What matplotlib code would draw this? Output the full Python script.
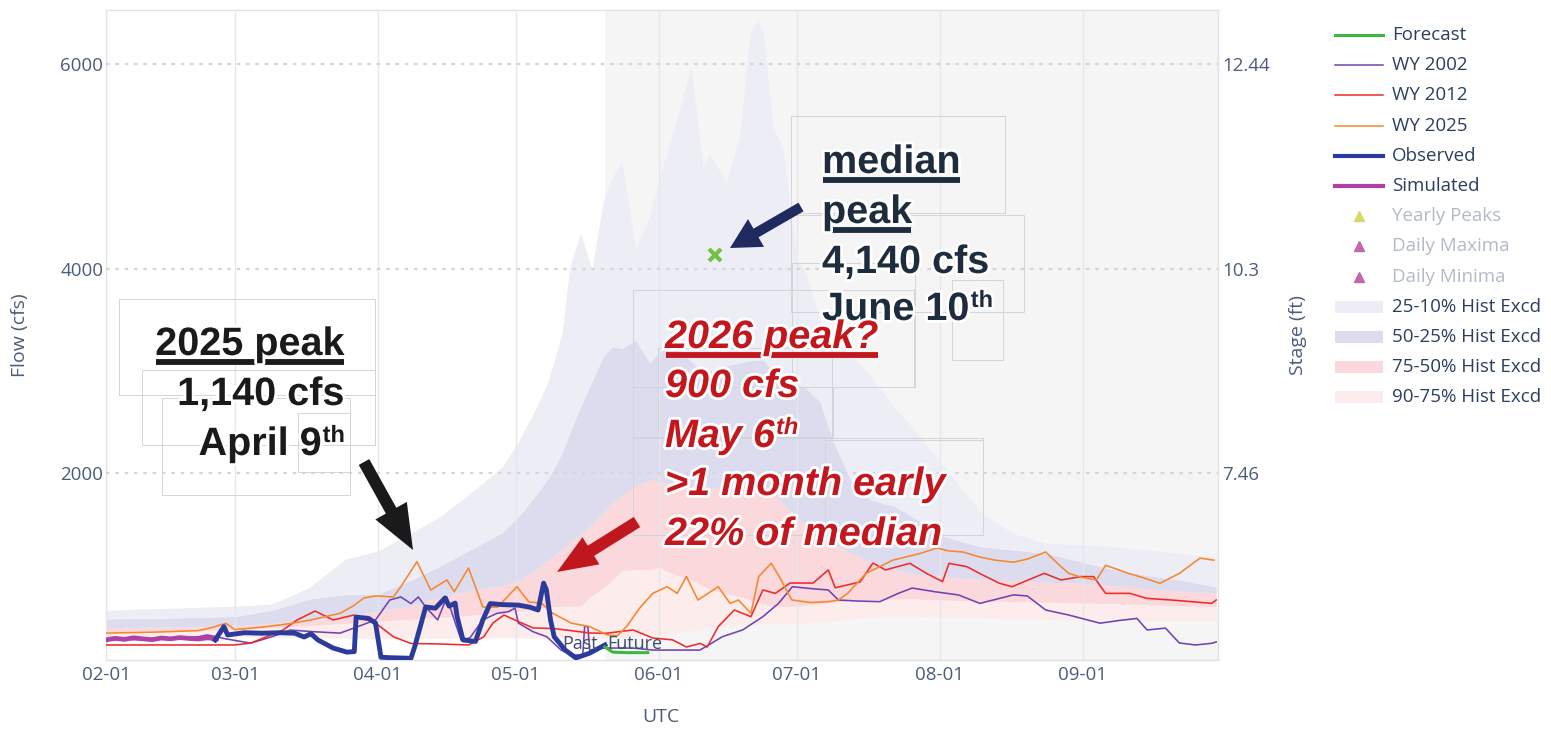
import numpy as np
import pandas as pd
import matplotlib
matplotlib.use("Agg")
import matplotlib.pyplot as plt
import matplotlib.dates as mdates
import matplotlib.patheffects as pe
from matplotlib.lines import Line2D
from matplotlib.patches import Polygon, Rectangle
from matplotlib.transforms import IdentityTransform

# ---------------------------------------------------------------- data
START = pd.Timestamp("2026-02-01")          # day 0 of every series below
now_day = 108.3                             # Past | Future boundary
end_day = 241.4

# historical exceedance bands (cfs), common day grid
band_day = [0, 14, 28, 36, 44, 52, 59, 66, 72, 79, 86, 90, 93.5, 96, 99, 100.7, 103,
            105.5, 108, 110, 112, 115, 118, 120, 123, 127, 129.6, 131, 134.7, 137.6,
            139.8, 141.3, 142.7, 144.8, 147, 150, 152, 155, 158, 162, 166, 171, 176,
            182, 190, 197, 204, 212, 219, 226, 233, 241]
p10 = [660, 680, 700, 720, 880, 1160, 1240, 1410, 1560, 1800, 2060, 2350, 2650, 2900,
       3370, 4020, 4350, 4000, 4670, 4900, 5060, 4180, 4510, 4870, 5320, 5976, 5000,
       5130, 4840, 5320, 6300, 6435, 6300, 5390, 5160, 4090, 3960, 3500, 3300, 3150,
       2950, 2650, 2400, 2060, 1610, 1410, 1315, 1300, 1280, 1250, 1215, 1180]
p25 = [575, 585, 600, 660, 770, 815, 820, 950, 1080, 1250, 1420, 1600, 1800, 1950,
       2200, 2400, 2650, 2900, 3150, 3240, 3220, 3300, 3080, 3180, 3270, 3100, 2980,
       3000, 3050, 3080, 3100, 3110, 3110, 3000, 2915, 2870, 2830, 2700, 2300, 1900,
       1740, 1680, 1550, 1380, 1280, 1250, 1215, 1130, 1054, 1000, 956, 890]
p50 = [490, 495, 505, 530, 560, 600, 650, 700, 780, 850, 900, 960, 1060, 1150, 1250,
       1320, 1400, 1500, 1620, 1720, 1780, 1880, 1933, 1920, 1900, 1870, 1835, 1850,
       1880, 1900, 1880, 1850, 1820, 1800, 1700, 1560, 1500, 1420, 1300, 1215, 1130,
       1060, 1010, 990, 956, 950, 935, 923, 900, 870, 850, 825]
p75 = [450, 455, 470, 490, 510, 530, 550, 570, 590, 610, 630, 650, 670, 690, 700, 700,
       700, 800, 880, 960, 1050, 1060, 1054, 1080, 1020, 960, 900, 870, 825, 790, 760,
       740, 720, 700, 695, 700, 710, 720, 740, 760, 760, 770, 770, 760, 750, 745, 740,
       730, 725, 715, 705, 695]
p90 = [400, 400, 400, 395, 390, 385, 385, 385, 385, 390, 390, 390, 385, 385, 380, 380,
       380, 380, 385, 390, 395, 400, 410, 420, 440, 460, 480, 490, 500, 510, 515, 520,
       525, 530, 530, 535, 540, 550, 560, 575, 590, 600, 600, 595, 585, 575, 570, 565,
       565, 560, 560, 560]

wy2025_day = [0, 10, 20, 23, 26, 28, 35, 40, 44.5, 50.8, 53.6, 56, 58.5, 62.4, 64, 67.5,
              70.5, 74, 75.6, 78.7, 81.8, 85, 89.2, 91.8, 94.5, 97, 101, 105, 108.7, 111,
              113, 116, 118.7, 121.8, 124, 126, 128.5, 132.9, 135.5, 137.3, 140, 141.7,
              144.4, 146.2, 148.9, 153, 157, 159, 161, 165, 170.8, 176.7, 180.4, 183,
              186, 189.7, 193, 197, 200, 204, 207, 209, 212, 215, 217, 222, 225, 228.8,
              233, 237.5, 240.5]
wy2025_cfs = [436, 445, 460, 490, 532, 470, 500, 530, 565, 630, 700, 780, 800, 790, 890,
              1135, 858, 956, 842, 1073, 692, 690, 890, 741, 730, 630, 534, 500, 420, 410,
              500, 690, 825, 890, 825, 990, 760, 890, 727, 760, 630, 989, 1119, 985, 760,
              735, 745, 760, 825, 1020, 1150, 1215, 1268, 1240, 1230, 1180, 1150, 1130,
              1160, 1230, 1100, 1020, 980, 956, 1100, 1020, 980, 923, 1020, 1170, 1150]

wy2012_day = [0, 10, 20, 27.8, 31.4, 38.4, 41.5, 45.4, 49.3, 53.8, 58.5, 62.4, 66.2, 72,
              78.7, 82, 84, 86.4, 89, 92.7, 97.3, 101, 105, 108.7, 114.4, 118.7, 123,
              126, 129, 130.5, 132.9, 136.4, 140, 142.6, 145.3, 148.5, 153.5, 156.8,
              158.3, 163.7, 166.5, 169.2, 174.5, 178.1, 181.6, 183, 186.9, 189.6, 194,
              196.7, 200.2, 203.7, 207.3, 211.7, 214.4, 217, 222.3, 225.9, 231.2, 235.6,
              240, 241]
wy2012_cfs = [320, 320, 320, 320, 338, 466, 565, 652, 565, 613, 535, 400, 335, 330, 320,
              400, 535, 613, 560, 487, 480, 460, 437, 435, 467, 388, 370, 300, 335, 300,
              499, 662, 597, 858, 825, 926, 926, 1054, 880, 936, 1122, 1054, 1119, 1021,
              940, 1119, 1086, 1021, 923, 890, 956, 1021, 956, 989, 989, 825, 825, 776,
              760, 744, 727, 760]

wy2002_day = [0, 10, 20, 22, 26, 31.4, 36, 40, 45, 50.8, 54.7, 58.5, 61.6, 64, 66.2,
              67.8, 69.4, 72, 74, 75.6, 77.1, 79, 81.8, 84.9, 87.3, 88.8, 89.5, 92.7,
              95.7, 98.8, 101, 103.5, 103.9, 104.6, 105, 108, 114.4, 118.7, 123, 128.9,
              130.2, 133.8, 138.2, 142.6, 146, 149, 153.5, 156.8, 159, 163, 168, 172,
              175, 179.8, 185.1, 189.7, 194, 197, 200, 204, 209, 215.8, 220, 223.8, 226,
              230, 233, 236.5, 240, 241]
wy2002_cfs = [370, 375, 400, 418, 380, 338, 400, 466, 450, 436, 500, 565, 760, 790, 725,
              790, 692, 565, 790, 565, 369, 390, 565, 630, 645, 680, 535, 450, 400, 270,
              222, 222, 500, 500, 270, 290, 290, 270, 270, 270, 303, 401, 467, 597, 727,
              890, 870, 858, 760, 750, 744, 825, 877, 842, 809, 727, 776, 810, 800, 662,
              613, 533, 560, 580, 467, 485, 340, 320, 336, 350]

obs_day = [23.7, 25.6, 26.4, 30, 34, 38, 41, 43, 44.5, 46, 49.3, 52.3, 53.9, 54.3, 57,
           58.5, 59.7, 62, 66.2, 67, 69.4, 71.5, 73.6, 74.5, 75.8, 76.2, 77.5, 80.2, 81.8,
           83.4, 86, 89.5, 92, 93.8, 95, 95.6, 96.5, 97.3, 99.7, 102, 105, 108.3]
obs_cfs = [369, 500, 418, 440, 435, 440, 435, 398, 430, 369, 290, 250, 255, 593, 580,
           535, 200, 195, 190, 300, 692, 680, 780, 700, 730, 600, 369, 355, 565, 725, 715,
           710, 690, 662, 925, 860, 565, 400, 270, 193, 240, 320]

sim_day = [0, 2, 4, 6, 8, 10, 12, 14, 16, 18, 20, 22, 24]
sim_cfs = [370, 385, 375, 390, 380, 372, 388, 380, 392, 384, 378, 390, 380]

fcst_day = [108.3, 110, 113, 117.6]
fcst_cfs = [300, 250, 245, 245]

median_peak_day = 132.2
median_peak_cfs = 4140

flow_ticks = [2000, 4000, 6000]
stage_labels = ["7.46", "10.3", "12.44"]

legend_labels = ["Forecast", "WY 2002", "WY 2012", "WY 2025", "Observed", "Simulated",
                 "Yearly Peaks", "Daily Maxima", "Daily Minima", "25-10% Hist Excd",
                 "50-25% Hist Excd", "75-50% Hist Excd", "90-75% Hist Excd"]

# ---------------------------------------------------------------- helpers
def dates(days):
    return START + pd.to_timedelta(np.asarray(days, float), unit="D")

W, H = 1551, 729
plt.rcParams['font.family'] = ['Open Sans', 'DejaVu Sans']
TICK_C = '#4b5d7a'
TEXT_C = '#2a3f5f'

C_FCST = '#3cb83c'
C_02 = '#7044b0'
C_12 = '#f02a2a'
C_25 = '#f7872c'
C_OBS = '#2b3b9c'
C_SIM = '#b040a6'
C_B1 = '#ededf6'
C_B2 = '#dcdcee'
C_B3 = '#fad8db'
C_B4 = '#fcecec'

fig = plt.figure(figsize=(W / 100, H / 100), dpi=100)
fig.patch.set_facecolor('white')
ax = fig.add_axes([106 / W, 1 - 660 / H, (1218 - 106) / W, 650 / H])
ax.set_facecolor('white')
x0, x1 = dates([0, end_day])
ax.set_xlim(x0, x1)
ax.set_ylim(173, 6533)

ax.axvspan(dates([now_day])[0], x1, color='#f5f5f6', lw=0, zorder=0)

bd = dates(band_day)
ax.fill_between(bd, p90, p75, color=C_B4, lw=0, zorder=1)
ax.fill_between(bd, p75, p50, color=C_B3, lw=0, zorder=1)
ax.fill_between(bd, p50, p25, color=C_B2, lw=0, zorder=1)
ax.fill_between(bd, p25, p10, color=C_B1, lw=0, zorder=1)

ax.xaxis.set_major_locator(mdates.MonthLocator())
ax.xaxis.set_major_formatter(mdates.DateFormatter('%m-%d'))
ax.set_yticks(flow_ticks)
ax.grid(axis='x', color='#e6e6ec', lw=1.0, zorder=1.5)
ax.grid(axis='y', color='#d6d6da', lw=1.6, linestyle=(0, (1.6, 2.6)), zorder=1.5)
ax.set_axisbelow(False)
for s in ax.spines.values():
    s.set_color('#e2e2e6')
    s.set_linewidth(1.0)
ax.tick_params(length=0, labelsize=13.5, labelcolor=TICK_C)
ax.tick_params(axis='x', pad=4)
ax.tick_params(axis='y', pad=2)

ax.plot(dates(wy2002_day), wy2002_cfs, color=C_02, lw=1.15, zorder=3)
ax.plot(dates(wy2012_day), wy2012_cfs, color=C_12, lw=1.15, zorder=3)
ax.plot(dates(wy2025_day), wy2025_cfs, color=C_25, lw=1.15, zorder=3)
ax.plot(dates(sim_day), sim_cfs, color=C_SIM, lw=3.4, zorder=4)
ax.plot(dates(obs_day), obs_cfs, color=C_OBS, lw=3.5, zorder=5)
ax.plot(dates(fcst_day), fcst_cfs, color=C_FCST, lw=2.2, zorder=5)
ax.plot(dates([median_peak_day]), [median_peak_cfs], marker='x', ms=8, mew=3,
        color='#72c044', ls='none', zorder=6)

nd = dates([now_day])[0]
ax.text(nd - pd.Timedelta(days=1.5), 330, 'Past', ha='right', va='center',
        fontsize=13, color='#3b4d6b', zorder=6)
ax.text(nd + pd.Timedelta(days=0.6), 330, 'Future', ha='left', va='center',
        fontsize=13, color='#3b4d6b', zorder=6)

ax2 = ax.twinx()
ax2.set_ylim(ax.get_ylim())
ax2.set_yticks(flow_ticks)
ax2.set_yticklabels(stage_labels)
ax2.tick_params(length=0, labelsize=13.5, labelcolor=TICK_C, pad=3)
for s in ax2.spines.values():
    s.set_visible(False)

ID = IdentityTransform()


def ptext(x, y, s, **kw):
    return fig.text(x, H - y, s, transform=ID, **kw)


ptext(20, 335, 'Flow (cfs)', rotation=90, ha='center', va='center', fontsize=14,
      color=TICK_C)
ptext(661, 717, 'UTC', ha='center', va='center', fontsize=14, color=TICK_C)
ptext(1298, 335, 'Stage (ft)', rotation=90, ha='center', va='center', fontsize=14,
      color=TICK_C)

# ---------------------------------------------------------------- legend
row0, pitch = 35, 30.2
hx0, hx1, tx = 1335, 1383, 1392
handles = [('line', C_FCST, 2.2), ('line', C_02, 1.1), ('line', C_12, 1.1),
           ('line', C_25, 1.1), ('line', C_OBS, 3.0), ('line', C_SIM, 3.0),
           ('tri', '#d9d96a', 0), ('tri', '#c565ad', 0), ('tri', '#c565ad', 0),
           ('box', C_B1, 0), ('box', C_B2, 0), ('box', C_B3, 0), ('box', C_B4, 0)]
for i, (lab, (kind, col, lw)) in enumerate(zip(legend_labels, handles)):
    y = H - (row0 + pitch * i)
    if kind == 'line':
        fig.add_artist(Line2D([hx0, hx1], [y, y], color=col, lw=lw, transform=ID))
    elif kind == 'tri':
        fig.add_artist(Line2D([(hx0 + hx1) / 2], [y], marker='^', ms=7, color=col,
                              ls='none', transform=ID))
    else:
        fig.add_artist(Rectangle((hx0, y - 6), hx1 - hx0, 12, color=col, lw=0,
                                 transform=ID))
    greyed = kind == 'tri'
    fig.text(tx, y, lab, transform=ID, va='center', ha='left', fontsize=13.5,
             color='#b3bac8' if greyed else TEXT_C)

# ---------------------------------------------------------------- annotation boxes
boxes = [(119, 299, 375, 395), (142, 370, 375, 445), (162, 398, 350, 495),
         (298, 413, 350, 472),
         (791, 116, 1005, 213), (791, 215, 1024, 312), (952, 280, 1003, 360),
         (792, 263, 915, 387),
         (633, 290, 914, 387), (658, 348, 832, 437), (633, 387, 833, 437),
         (633, 438, 983, 535), (825, 440, 983, 535)]
for bx0, by0, bx1, by1 in boxes:
    fig.add_artist(Rectangle((bx0, H - by1), bx1 - bx0, by1 - by0, fill=False,
                             edgecolor='#d2d4da', lw=0.7, transform=ID, zorder=7))

# ---------------------------------------------------------------- annotation text
r = fig.canvas.get_renderer()
halo = [pe.withStroke(linewidth=4, foreground='white')]
FAM = ['Liberation Sans', 'DejaVu Sans']


def note(x, y, s, color, ha='left', italic=False, size=28.5, underline=False, sup=None):
    kw = dict(color=color, fontweight='bold', family=FAM, va='baseline',
              fontstyle='italic' if italic else 'normal', path_effects=halo, zorder=10)
    if sup and ha == 'right':
        st = ptext(x, y - 13, sup, ha='right', fontsize=17, **kw)
        bb = st.get_window_extent(r)
        t = ptext(bb.x0 - 1, y, s, ha='right', fontsize=size, **kw)
    else:
        t = ptext(x, y, s, ha=ha, fontsize=size, **kw)
        if sup:
            bb = t.get_window_extent(r)
            ptext(bb.x1 + 1, y - 13, sup, ha='left', fontsize=17, **kw)
    if underline:
        bb = t.get_window_extent(r)
        yy = H - (y + 7)
        fig.add_artist(Line2D([bb.x0 + 1, bb.x1 - 1], [yy, yy], color=color, lw=4.2,
                              solid_capstyle='butt', transform=ID, zorder=10))
    return t


BLK = '#1a1a1a'
NAV = '#1e2d3d'
RED = '#c3161d'
note(345, 355, '2025 peak', BLK, ha='right', underline=True)
note(345, 405, '1,140 cfs', BLK, ha='right')
note(345, 455, 'April 9', BLK, ha='right', sup='th')

note(822, 173, 'median', NAV, underline=True)
note(822, 223, 'peak', NAV, underline=True)
note(822, 273, '4,140 cfs', NAV)
note(822, 320, 'June 10', NAV, sup='th')

note(665, 348, '2026 peak?', RED, italic=True, underline=True)
note(665, 397, '900 cfs', RED, italic=True)
note(665, 447, 'May 6', RED, italic=True, sup='th')
note(665, 495, '>1 month early', RED, italic=True)
note(665, 545, '22% of median', RED, italic=True)


def arrow(tail, tip, color, w, hw, hl):
    (xa, ya), (xb, yb) = tail, tip
    ya, yb = H - ya, H - yb
    d = np.array([xb - xa, yb - ya], float)
    L = np.hypot(*d)
    u = d / L
    n = np.array([-u[1], u[0]])
    a = np.array([xa, ya])
    base = a + u * (L - hl)
    pts = [a + n * w / 2, base + n * w / 2, base + n * hw / 2, a + d,
           base - n * hw / 2, base - n * w / 2, a - n * w / 2]
    fig.add_artist(Polygon(pts, closed=True, color=color, lw=0, transform=ID, zorder=9))


arrow((364, 462), (413, 550), BLK, 12, 36, 45)
arrow((801, 207), (730, 248), '#1f2a5e', 10, 32, 30)
arrow((637, 522), (557, 572), '#c0161e', 12, 32, 40)

fig.savefig('out.png', dpi=100)
